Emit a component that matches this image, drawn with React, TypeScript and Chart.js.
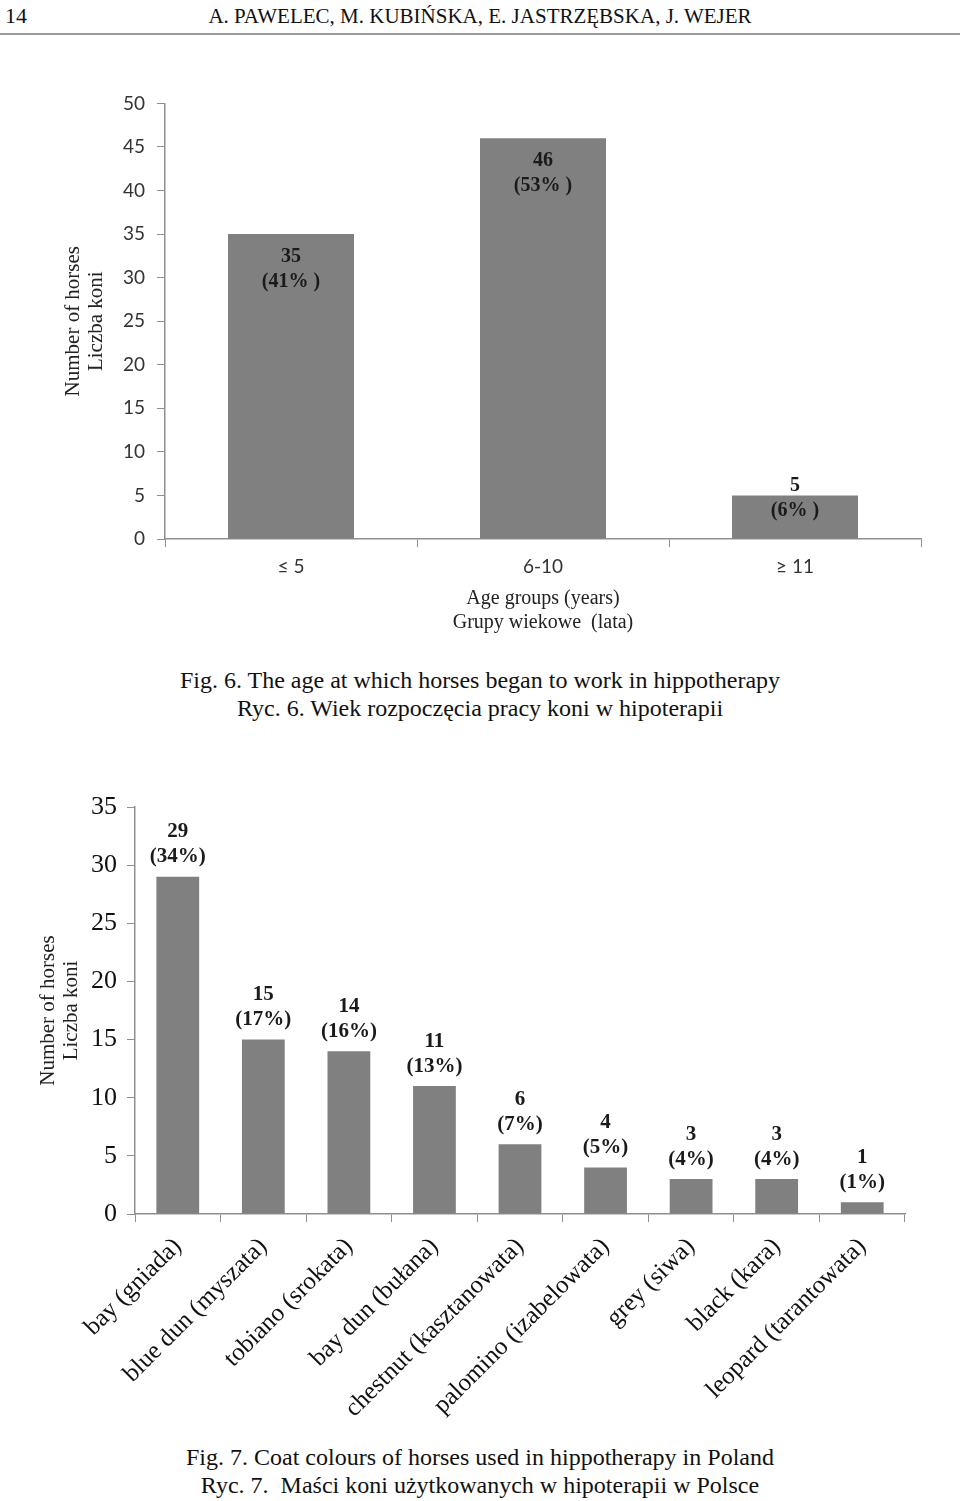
import React, { useEffect, useRef } from "react";
import { Chart, registerables } from "chart.js";

Chart.register(...registerables);

// ---- Figure 6 data ----
const ageGroups = ["≤ 5", "6-10", "≥ 11"];
const ageCounts = [35, 46, 5];
const agePercents = ["(41% )", "(53% )", "(6% )"];
const ageYMax = 50;
const ageYStep = 5;

// ---- Figure 7 data ----
const coatColours = [
  "bay (gniada)",
  "blue dun (myszata)",
  "tobiano (srokata)",
  "bay dun (bułana)",
  "chestnut (kasztanowata)",
  "palomino (izabelowata)",
  "grey (siwa)",
  "black (kara)",
  "leopard (tarantowata)",
];
const coatCounts = [29, 15, 14, 11, 6, 4, 3, 3, 1];
const coatPercents = ["(34%)", "(17%)", "(16%)", "(13%)", "(7%)", "(5%)", "(4%)", "(4%)", "(1%)"];
const coatYMax = 35;
const coatYStep = 5;

const yTitle = ["Number of horses", "Liczba koni"];
const ageXTitle = ["Age groups (years)", "Grupy wiekowe  (lata)"];

const SERIF = "'Liberation Serif', 'Times New Roman', serif";
const BAR = "#808080";
const AXIS = "#8f8f8f";

function labelPlugin(
  id: string,
  counts: number[],
  percents: string[],
  mode: "inside" | "above",
  font: string,
  gap: number
) {
  return {
    id,
    afterDatasetsDraw(chart: any) {
      const ctx = chart.ctx;
      const meta = chart.getDatasetMeta(0);
      ctx.save();
      ctx.font = font;
      ctx.fillStyle = "#1a1a1a";
      ctx.textAlign = "center";
      ctx.textBaseline = "middle";
      meta.data.forEach((bar: any, i: number) => {
        const p = bar.getProps(["x", "y", "base"], true);
        let y1: number;
        if (mode === "inside") {
          y1 = Math.min(p.y + 23, p.base - 53);
        } else {
          y1 = p.y - 45;
        }
        ctx.fillText(String(counts[i]), p.x, y1);
        ctx.fillText(percents[i], p.x, y1 + gap);
      });
      ctx.restore();
    },
  };
}

function AgeChart() {
  const ref = useRef<HTMLCanvasElement | null>(null);
  useEffect(() => {
    if (!ref.current) return;
    const chart = new Chart(ref.current, {
      type: "bar",
      data: {
        labels: ageGroups,
        datasets: [
          {
            data: ageCounts,
            backgroundColor: BAR,
            borderWidth: 0,
            barPercentage: 0.5,
            categoryPercentage: 1,
          },
        ],
      },
      options: {
        responsive: false,
        animation: false,
        layout: { padding: { top: 20, right: 39, bottom: 0, left: 0 } },
        plugins: { legend: { display: false }, tooltip: { enabled: false } },
        scales: {
          x: {
            grid: { drawOnChartArea: false, drawTicks: true, tickLength: 8, color: AXIS, offset: true },
            border: { display: true, color: AXIS, width: 1.5 },
            ticks: { font: { family: "Lato", size: 19 }, color: "#333", padding: 8 },
            title: {
              display: true,
              text: ageXTitle,
              font: { family: SERIF, size: 20, lineHeight: 1.2 },
              color: "#222",
              padding: { top: 0, bottom: 5 },
            },
            afterFit: (s: any) => {
              s.height = 101;
            },
          } as any,
          y: {
            min: 0,
            max: ageYMax,
            ticks: { stepSize: ageYStep, font: { family: "Lato", size: 19 }, color: "#333", padding: 12 },
            grid: { drawOnChartArea: false, drawTicks: true, tickLength: 8, color: AXIS },
            border: { display: true, color: AXIS, width: 1.5 },
            title: {
              display: true,
              text: yTitle,
              font: { family: SERIF, size: 21, lineHeight: 23 / 21 },
              color: "#222",
              padding: { top: 62, bottom: 0 },
            },
            afterFit: (s: any) => {
              s.width = 165;
            },
          } as any,
        },
      },
      plugins: [labelPlugin("ageLabels", ageCounts, agePercents, "inside", `bold 20px ${SERIF}`, 25)],
    });
    return () => chart.destroy();
  }, []);
  return (
    <canvas
      ref={ref}
      width={960}
      height={560}
      style={{ position: "absolute", left: 0, top: 80, width: 960, height: 560 }}
    />
  );
}

function CoatChart() {
  const ref = useRef<HTMLCanvasElement | null>(null);
  useEffect(() => {
    if (!ref.current) return;
    const chart = new Chart(ref.current, {
      type: "bar",
      data: {
        labels: coatColours,
        datasets: [
          {
            data: coatCounts,
            backgroundColor: BAR,
            borderWidth: 0,
            barPercentage: 0.5,
            categoryPercentage: 1,
          },
        ],
      },
      options: {
        responsive: false,
        animation: false,
        layout: { padding: { top: 27, right: 55, bottom: 0, left: 0 } },
        plugins: { legend: { display: false }, tooltip: { enabled: false } },
        scales: {
          x: {
            grid: { drawOnChartArea: false, drawTicks: true, tickLength: 8, color: AXIS, offset: true },
            border: { display: true, color: AXIS, width: 1.5 },
            ticks: {
              font: { family: SERIF, size: 25 },
              color: "#111",
              padding: 10,
              minRotation: 45,
              maxRotation: 45,
              autoSkip: false,
            },
            afterFit: (s: any) => {
              s.height = 216;
            },
          } as any,
          y: {
            min: 0,
            max: coatYMax,
            ticks: { stepSize: coatYStep, font: { family: SERIF, size: 26 }, color: "#111", padding: 10 },
            grid: { drawOnChartArea: false, drawTicks: true, tickLength: 8, color: AXIS },
            border: { display: true, color: AXIS, width: 1.5 },
            title: {
              display: true,
              text: yTitle,
              font: { family: SERIF, size: 21, lineHeight: 23 / 21 },
              color: "#222",
              padding: { top: 37, bottom: 0 },
            },
            afterFit: (s: any) => {
              s.width = 135;
            },
          } as any,
        },
      },
      plugins: [labelPlugin("coatLabels", coatCounts, coatPercents, "above", `bold 21px ${SERIF}`, 25)],
    });
    return () => chart.destroy();
  }, []);
  return (
    <canvas
      ref={ref}
      width={960}
      height={650}
      style={{ position: "absolute", left: 0, top: 780, width: 960, height: 650 }}
    />
  );
}

const captionStyle: React.CSSProperties = {
  position: "absolute",
  left: 0,
  width: 960,
  textAlign: "center",
  fontFamily: SERIF,
  fontSize: 24,
  lineHeight: "28px",
  color: "#111",
  whiteSpace: "pre",
};

export default function App() {
  return (
    <div
      style={{
        position: "absolute",
        left: 0,
        top: 0,
        width: 960,
        height: 1501,
        background: "#fff",
        overflow: "hidden",
      }}
    >
      <div
        style={{
          position: "absolute",
          left: 5,
          top: 3,
          fontFamily: SERIF,
          fontSize: 22,
          lineHeight: "26px",
          color: "#111",
        }}
      >
        14
      </div>
      <div
        style={{
          position: "absolute",
          left: 0,
          top: 3,
          width: 960,
          textAlign: "center",
          fontFamily: SERIF,
          fontSize: 21,
          lineHeight: "26px",
          color: "#111",
        }}
      >
        A. PAWELEC, M. KUBIŃSKA, E. JASTRZĘBSKA, J. WEJER
      </div>
      <div style={{ position: "absolute", left: 0, top: 33, width: 960, height: 2, background: "#9a9a9a" }} />
      <AgeChart />
      <div style={{ ...captionStyle, top: 666 }}>
        {"Fig. 6. The age at which horses began to work in hippotherapy\nRyc. 6. Wiek rozpoczęcia pracy koni w hipoterapii"}
      </div>
      <CoatChart />
      <div style={{ ...captionStyle, top: 1443 }}>
        {"Fig. 7. Coat colours of horses used in hippotherapy in Poland\nRyc. 7.  Maści koni użytkowanych w hipoterapii w Polsce"}
      </div>
    </div>
  );
}
